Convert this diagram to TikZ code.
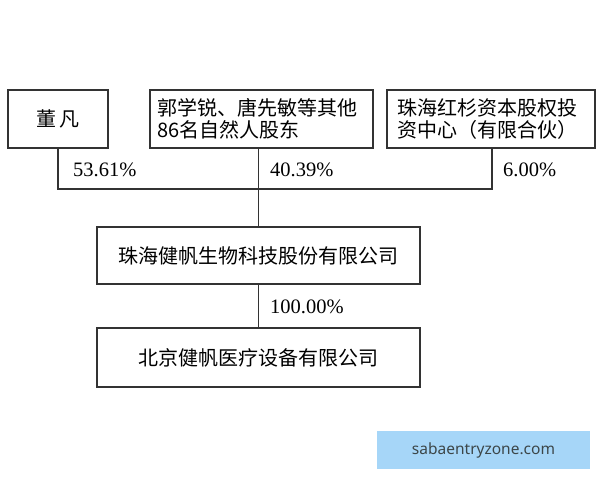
\documentclass[tikz,border=0pt]{standalone}
\usepackage{fontspec}
\setmainfont{Liberation Serif}
\newfontfamily\cjk{Noto Sans CJK SC}
\newfontfamily\wmfont{Noto Sans}
\definecolor{linegray}{rgb}{0.20, 0.20, 0.20}
\definecolor{wmblue}{RGB}{166,214,248}
\definecolor{wmtext}{RGB}{60,70,72}

\begin{document}
\begin{tikzpicture}[x=1pt,y=-1pt,
  box/.style={draw=linegray,line width=1.2pt,inner sep=0pt,font=\cjk\fontsize{20}{22}\selectfont},
  pct/.style={anchor=west,inner sep=0pt,font=\fontsize{20.5}{21}\selectfont},
  link/.style={draw=linegray,line width=1.2pt}]
\useasboundingbox (0,0) rectangle (600,480);
% shareholders
\node[box,minimum width=100pt,minimum height=58pt] (dong) at (58,119) {董\hspace{3pt}凡};
\node[box,minimum height=58pt,text width=209pt,inner xsep=7pt,align=left] (guo) at (261.5,119)
  {郭学锐、唐先敏等其他\\86名自然人股东};
\node[box,minimum height=58pt,text width=188pt,inner xsep=10pt,align=left] (hongshan) at (491,119)
  {珠海红杉资本股权投\\资中心（有限合伙）};
% companies
\node[box,minimum width=323pt,minimum height=57pt] (jianfan) at (258.5,255.5) {珠海健帆生物科技股份有限公司};
\node[box,minimum width=323pt,minimum height=59pt] (beijing) at (258.5,357.5) {北京健帆医疗设备有限公司};
% connectors
\coordinate (busL) at (58,189);
\coordinate (busR) at (492,189);
\draw[link] (dong.south) -- (busL) -- (busR) -- (hongshan.south -| busR);
\draw[link] (guo.south -| jianfan.north) -- (jianfan.north);
\draw[link] (jianfan.south) -- (beijing.north);
% shares
\node[pct] (pdong) at (73,170) {53.61\%};
\node[pct] (pguo) at (270,170) {40.39\%};
\node[pct] (phong) at (503,170) {6.00\%};
\node[pct] (pjian) at (270,307) {100.00\%};
% watermark
\node[fill=wmblue,minimum width=213pt,minimum height=38pt,inner sep=0pt,
  text=wmtext,font=\wmfont\fontsize{15.5}{16}\selectfont] (mark) at (483.5,450) {sabaentryzone.com};
\end{tikzpicture}
\end{document}
